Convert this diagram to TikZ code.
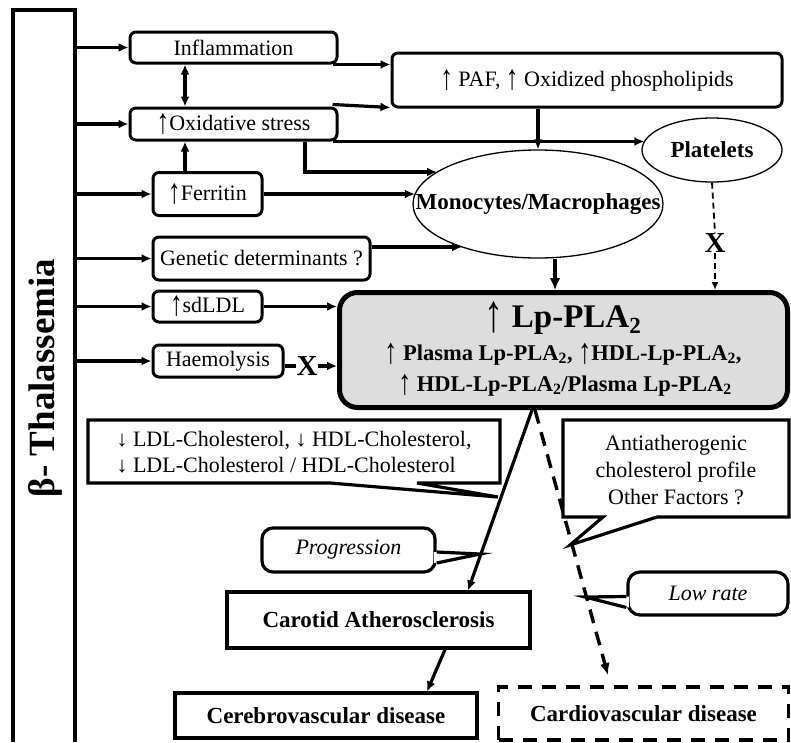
\documentclass[tikz,border=0pt]{standalone}
\usepackage{fontspec}
\usepackage{graphicx}
\setmainfont{Liberation Serif}
\usetikzlibrary{arrows.meta,calc,shapes.geometric}
\definecolor{lpfill}{RGB}{221,221,221}
\newcommand{\myup}{\raisebox{-0.14em}{\scalebox{1.15}[1.6]{↑}}}
\begin{document}
\begin{tikzpicture}[x=1pt,y=-1pt,
  every node/.style={inner sep=0pt, font=\fontsize{22}{26}\selectfont},
  rbox/.style={draw, line width=3pt, rounded corners=6pt},
  sbox/.style={draw, line width=3.2pt},
  ittext/.style={font=\fontsize{22}{26}\selectfont\itshape},
  oval/.style={draw, ellipse, line width=1.3pt},
  xmark/.style={font=\fontsize{29}{29}\selectfont\bfseries},
  tipa/.style={-{Latex[length=10pt,width=9pt]}},
  arr/.style={line width=3.2pt, tipa},
  ln/.style={line width=3.2pt},
  callout/.style={line width=3.2pt, line join=miter},
]
\useasboundingbox (0,0) rectangle (791,742);
% spine box
\draw[line width=3.4pt] (13,742) -- (13,10) -- (75,10) -- (75,742);
\node[font=\fontsize{37}{37}\selectfont\bfseries, rotate=90] (thal) at (45,378) {β- Thalassemia};
\coordinate (spine) at (75,0);

% left boxes
\node[rbox, minimum width=207pt, minimum height=31pt] (infl) at (233.5,47.5) {Inflammation};
\node[rbox, minimum width=207pt, minimum height=32pt] (oxs) at (233.5,124) {\myup Oxidative stress};
\node[rbox, minimum width=109pt, minimum height=43pt] (fer) at (207.5,194) {\myup Ferritin};
\node[rbox, minimum width=217pt, minimum height=43pt] (gen) at (261.5,258.5) {Genetic determinants ?};
\node[rbox, minimum width=109pt, minimum height=31pt] (sdl) at (207.5,306.5) {\myup sdLDL};
\node[rbox, minimum width=130pt, minimum height=32pt] (hae) at (218,361) {Haemolysis};

% right upper
\node[rbox, minimum width=390pt, minimum height=54pt] (paf) at (587,80) {\myup\ PAF, \myup\ Oxidized phospholipids};
\node[oval, minimum width=250pt, minimum height=108pt] (mono) at (538,204) {};
\node[font=\fontsize{23}{26}\selectfont\bfseries] (monot) at (mono.center) {Monocytes/Macrophages};
\node[oval, minimum width=140pt, minimum height=64pt] (plat) at (712,150) {};
\node[font=\fontsize{23}{26}\selectfont\bfseries] (platt) at (plat.center) {Platelets};

% Lp-PLA2 box
\node[draw, fill=lpfill, line width=5pt, rounded corners=18pt, minimum width=448pt, minimum height=115pt] (lp) at (563.5,350) {};
\node[font=\fontsize{33}{35}\selectfont\bfseries] (lp1) at (563,318) {\myup\ Lp-PLA\textsubscript{2}};
\node[font=\fontsize{22.5}{24}\selectfont\bfseries] (lp2) at (563,354) {\myup\ Plasma Lp-PLA\textsubscript{2}, \myup HDL-Lp-PLA\textsubscript{2},};
\node[font=\fontsize{22.5}{24}\selectfont\bfseries] (lp3) at (565,385) {\myup\ HDL-Lp-PLA\textsubscript{2}/Plasma Lp-PLA\textsubscript{2}};

% X marks
\node[xmark] (x1) at (715,243) {X};
\node[xmark] (x2) at (307,366) {X};

% branch arrows from spine
\draw[arr] (spine |- infl.west) -- (infl.west);
\draw[arr] (spine |- oxs.west) -- (oxs.west);
\draw[arr] (spine |- fer.west) -- (fer.west);
\draw[arr] (spine |- gen.west) -- (gen.west);
\draw[arr] (spine |- sdl.west) -- (sdl.west);
\draw[arr] (spine |- hae.west) -- (hae.west);

% vertical links
\draw[line width=3.2pt, {Latex[length=10pt,width=9pt]}-{Latex[length=10pt,width=9pt]}] (infl.south -| 185,0) -- (oxs.north -| 185,0);
\draw[arr] (fer.north -| 185,0) -- (oxs.south -| 185,0);

% to PAF, platelets, monocytes
\draw[arr] ($(infl.south east)+(-6,0)$) -- (paf.west |- infl.south east);
\draw[arr] ($(oxs.north east)+(-6,-2)$) -- ($(paf.south west)+(0,-1)$);
\draw[arr] ($(oxs.south east)+(-6,0)$) -- ($(plat.west |- oxs.south)+(3,0)$);
\draw[arr] (oxs.south -| 305,0) |- ($(mono.center)+(-101,-32)$);
\draw[arr] (paf.south -| mono.north) -- (mono.north);
\draw[arr] (fer.east) -- ($(mono.west |- fer.east)+(2.5,0)$);
\draw[arr] (gen.east |- 0,247) -- ($(mono.center)+(-76,43)$);

% to Lp-PLA2
\draw[line width=1.8pt, dash pattern=on 6pt off 4pt] (plat.south) -- (x1.north);
\draw[line width=1.8pt, dash pattern=on 6pt off 4pt, -{Latex[length=8pt,width=7pt]}] (x1.south) -- (lp.north -| x1);
\draw[line width=3.8pt, -{Latex[length=12pt,width=11pt]}] ($(mono.south)+(17,0)$) -- (lp.north -| 555,0);
\draw[arr] (sdl.east) -- (lp.west |- sdl.east);
\draw[ln] (hae.east |- x2.west) -- (x2.west);
\draw[arr] (x2.east) -- (lp.west |- x2.east);

% lower nodes
\node[sbox, font=\fontsize{23}{26}\selectfont\bfseries, minimum width=303pt, minimum height=56pt] (car) at (378.5,620) {Carotid Atherosclerosis};
\node[sbox, font=\fontsize{23}{26}\selectfont\bfseries, minimum width=302pt, minimum height=45pt] (cer) at (326,715.5) {Cerebrovascular disease};
\node[draw, line width=3.6pt, dash pattern=on 14pt off 10pt, font=\fontsize{23}{26}\selectfont\bfseries, minimum width=290pt, minimum height=53pt] (card) at (643.5,713.5) {Cardiovascular disease};

% main lower connectors
\draw[arr] (lp.south -| 532,0) -- (car.north -| 468,0);
\draw[line width=3.4pt, dash pattern=on 14pt off 9pt, -{Latex[length=12pt,width=10pt]}] (lp.south -| 535,0) -- ($(card.north -| 608,0)+(0,-10)$);
\draw[arr] ($(car.south)+(66.5,0)$) -- ($(cer.north)+(101,0)$);

% callouts
\coordinate (ldltip) at (498,497);
\coordinate (antitip) at (570,545);
\coordinate (progtip) at (480,554);
\coordinate (lowtip) at (585,597);

\draw[callout, fill=white] (88,420) -- (500,420) -- (500,483) -- (417,483) -- (ldltip) -- (330,483) -- (88,483) -- cycle;
\node[font=\fontsize{22}{26}\selectfont, align=left] (ldl) at (294,452) {↓ LDL-Cholesterol, ↓ HDL-Cholesterol,\\↓ LDL-Cholesterol / HDL-Cholesterol};

\draw[callout, fill=white] (563,420) -- (789,420) -- (789,517) -- (657,517) -- (antitip) -- (603,517) -- (563,517) -- cycle;
\node[font=\fontsize{22}{27}\selectfont, align=center] (anti) at (676,470) {Antiatherogenic\\cholesterol profile\\Other Factors ?};

\node[draw, line width=3.2pt, rounded corners=11pt, minimum width=173pt, minimum height=44pt, ittext] (prog) at (348.5,550) {Progression};
\fill[white] ($(prog.east)+(-2.5,2)$) -- (progtip) -- ($(prog.east)+(-2.5,13)$) -- cycle;
\draw[callout] ($(prog.east)+(0,2)$) -- (progtip) -- ($(prog.east)+(0,13)$);

\node[draw, line width=3.2pt, rounded corners=12pt, minimum width=160pt, minimum height=43pt, ittext] (low) at (708,593.5) {Low rate};
\fill[white] ($(low.west)+(2.5,3)$) -- (lowtip) -- ($(low.west)+(2.5,14)$) -- cycle;
\draw[callout] ($(low.west)+(0,3)$) -- (lowtip) -- ($(low.west)+(0,14)$);
\end{tikzpicture}
\end{document}
